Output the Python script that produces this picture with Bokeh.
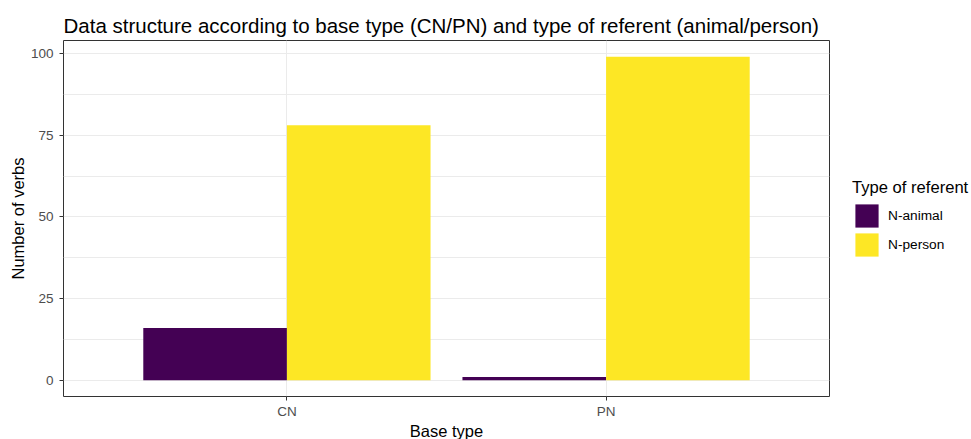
from bokeh.plotting import figure
from bokeh.layouts import row
from bokeh.models import ColumnDataSource, FactorRange, FixedTicker, Legend, LegendItem, Range1d
from bokeh.transform import dodge
from bokeh.embed import file_html
from bokeh.resources import INLINE

base_types = ["CN", "PN"]
referents = ["N-animal", "N-person"]
n_animal = [16, 1]
n_person = [78, 99]
colors = ["#440154", "#FDE725"]
y_ticks = [0, 25, 50, 75, 100]
y_minor = [12.5, 37.5, 62.5, 87.5]

src = ColumnDataSource(dict(base=base_types, animal=n_animal, person=n_person))

FONT = "Liberation Sans"

p = figure(frame_width=766, frame_height=356, output_backend="svg", toolbar_location=None,
           x_range=FactorRange(factors=base_types, range_padding=0.2, range_padding_units="absolute"),
           y_range=Range1d(-4.95, 103.95),
           min_border_left=63, min_border_right=2, min_border_top=40, min_border_bottom=43,
           title="Data structure according to base type (CN/PN) and type of referent (animal/person)")

r1 = p.vbar(x=dodge("base", -0.225, range=p.x_range), top="animal", bottom=0, width=0.45,
            source=src, fill_color=colors[0], line_color=None)
r2 = p.vbar(x=dodge("base", 0.225, range=p.x_range), top="person", bottom=0, width=0.45,
            source=src, fill_color=colors[1], line_color=None)

p.title.text_font = FONT
p.title.text_font_size = "20.5px"
p.title.text_font_style = "normal"
p.title.text_color = "#000000"
p.title.align = "left"
p.title.standoff = 8

p.outline_line_color = "#333333"
p.outline_line_width = 1

p.yaxis.ticker = FixedTicker(ticks=y_ticks, minor_ticks=y_minor)
p.ygrid.grid_line_color = "#EBEBEB"
p.ygrid.minor_grid_line_color = "#EBEBEB"
p.xgrid.grid_line_color = "#EBEBEB"

for ax in (p.xaxis[0], p.yaxis[0]):
    ax.axis_line_color = None
    ax.major_tick_line_color = "#333333"
    ax.major_tick_out = 4
    ax.major_tick_in = 0
    ax.minor_tick_line_color = None
    ax.major_label_text_font = FONT
    ax.major_label_text_font_size = "13.5px"
    ax.major_label_text_color = "#4D4D4D"
    ax.axis_label_text_font = FONT
    ax.axis_label_text_font_size = "16.5px"
    ax.axis_label_text_font_style = "normal"
    ax.axis_label_text_color = "#000000"

p.xaxis.axis_label = "Base type"
p.yaxis.axis_label = "Number of verbs"
p.xaxis.major_label_standoff = 3
p.xaxis.axis_label_standoff = 0
p.yaxis.major_label_standoff = 6
p.yaxis.axis_label_standoff = 1

# legend panel (separate figure to the right of the plot)
lg = figure(width=140, height=439, output_backend="svg", toolbar_location=None,
            x_axis_type=None, y_axis_type=None, min_border=0,
            x_range=Range1d(0, 1), y_range=Range1d(0, 1))
lg.outline_line_color = None
lg.grid.visible = False
proxy = ColumnDataSource(dict(x=[float("nan")], top=[float("nan")]))
g1 = lg.vbar(x="x", top="top", width=0.1, source=proxy, fill_color=colors[0], line_color=None)
g2 = lg.vbar(x="x", top="top", width=0.1, source=proxy, fill_color=colors[1], line_color=None)

legend = Legend(items=[LegendItem(label=referents[0], renderers=[g1]),
                       LegendItem(label=referents[1], renderers=[g2])],
                location=(21, 134), title="Type of referent")
legend.border_line_color = None
legend.background_fill_alpha = 0
legend.margin = 0
legend.padding = 0
legend.glyph_width = 29
legend.glyph_height = 29
legend.label_height = 24
legend.spacing = -5
legend.label_standoff = 7
legend.label_text_font = FONT
legend.label_text_font_size = "13.7px"
legend.label_text_color = "#000000"
legend.title_text_font = FONT
legend.title_text_font_size = "16.6px"
legend.title_text_font_style = "normal"
legend.title_text_color = "#000000"
legend.title_standoff = 3
lg.add_layout(legend, "center")

layout = row(p, lg)
open("out.html", "w").write(file_html(layout, INLINE))
